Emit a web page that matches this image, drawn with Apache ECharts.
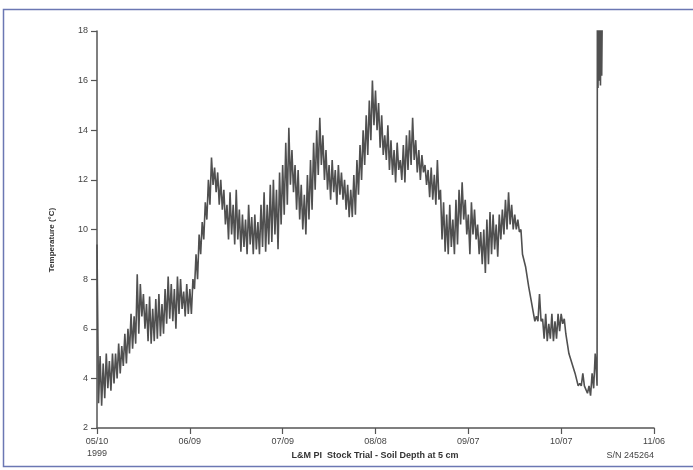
<!DOCTYPE html>
<html><head><meta charset="utf-8">
<script src="https://cdn.jsdelivr.net/npm/echarts@6/dist/echarts.min.js"></script>
<style>html,body{margin:0;padding:0;background:#fff}#c{width:693px;height:470px}</style>
</head><body><div id="c"></div>
<script>
// Days since 05/10/1999 — daily high / low soil temperature (°C)
const dailyHigh = [
 9.4,4.9,4.6,5.0,4.7,5.0,5.0,5.4,5.3,5.8,
 6.0,6.6,6.5,8.2,7.8,7.4,7.0,7.3,6.8,7.2,
 7.4,7.0,7.6,8.1,7.8,7.6,8.1,8.0,7.5,7.8,
 7.6,8.0,9.0,9.8,10.3,11.1,12.0,12.9,12.5,12.3,
 12.0,11.6,11.0,11.5,11.0,11.6,10.8,10.6,10.4,11.0,
 10.5,10.6,10.3,11.0,11.5,11.0,11.8,12.0,11.6,12.3,
 12.6,13.5,14.1,13.2,12.6,12.4,11.8,11.4,12.2,12.8,
 13.5,14.0,14.5,13.8,13.2,12.6,12.8,12.4,12.6,12.3,
 12.0,11.8,11.6,12.2,12.8,13.4,14.0,14.6,15.2,16.0,
 15.6,15.1,14.6,13.8,14.2,13.6,13.2,13.5,12.8,13.4,
 13.8,14.0,14.5,13.6,13.2,13.0,12.6,12.4,12.5,12.2,
 12.8,11.6,11.1,10.6,11.0,10.4,11.2,11.6,11.9,11.2,
 10.6,11.1,10.8,10.2,9.9,10.0,10.4,10.7,10.6,10.2,
 10.6,10.8,11.2,11.5,11.0,10.6,10.4,10.0,9.0,8.5,
 7.7,7.0,6.5,7.4,6.4,6.6,6.2,6.6,6.3,6.6,
 6.6,6.4,5.8,5.0,4.6,4.2,3.8,4.2,3.7,3.7,
 4.2,5.0
];
const dailyLow = [
 3.0,2.9,3.2,3.6,3.5,3.8,4.0,4.2,4.5,4.6,
 5.0,5.2,5.4,5.8,6.5,6.0,5.5,5.4,5.5,5.6,
 5.7,5.8,6.2,6.4,6.3,6.0,6.6,6.8,6.5,6.6,
 6.6,7.6,8.0,9.0,9.6,10.4,11.0,11.8,11.5,11.0,
 10.8,10.2,9.6,9.8,9.4,9.6,9.1,9.3,9.0,9.4,
 9.0,9.2,9.0,9.3,9.1,9.4,9.5,9.8,9.2,10.2,
 10.6,11.0,11.8,11.5,10.8,10.4,10.0,9.8,10.4,10.8,
 11.6,12.2,12.6,12.0,11.6,11.2,11.5,11.0,11.4,11.2,
 10.8,10.5,10.5,10.6,11.4,12.0,12.6,13.0,13.6,14.2,
 14.0,13.3,13.0,12.8,12.4,12.2,11.9,12.4,12.0,11.9,
 12.4,12.6,12.8,12.3,12.0,12.3,11.8,11.3,11.2,11.0,
 11.2,9.6,9.1,9.0,9.3,9.0,9.4,10.2,10.4,9.8,
 9.0,9.8,9.6,9.0,8.6,8.25,8.6,9.0,9.2,8.9,
 9.6,9.8,10.0,10.2,10.0,10.0,9.9,9.0,8.5,7.7,
 7.0,6.3,6.3,6.3,5.6,5.5,5.6,5.5,5.6,5.9,
 6.2,5.8,5.0,4.6,4.2,3.7,3.7,3.7,3.4,3.3,
 3.6,4.0
];
// final readings after the logger was lifted (off-scale above 18 °C)
const tailDays   = [161.6, 161.7, 161.9, 162.1, 162.3, 162.5, 162.7, 162.9, 163.1, 163.3];
const tailValues = [3.7, 19.0, 15.7, 19.0, 16.0, 19.0, 15.8, 19.0, 16.2, 19.0];

const xTickLabels = ['05/10\n1999','06/09','07/09','08/08','09/07','10/07','11/06'];
const yTicks = [2,4,6,8,10,12,14,16,18];

const pts = [];
for (let d = 0; d < dailyHigh.length; d++) {
  pts.push([d, dailyHigh[d]]);
  pts.push([d + 0.5, dailyLow[d]]);
}
for (let i = 0; i < tailDays.length; i++) pts.push([tailDays[i], tailValues[i]]);

const chart = echarts.init(document.getElementById('c'), null, {renderer:'canvas'});
const axisCol = '#555';
chart.setOption({
  backgroundColor: '#fff',
  animation: false,
  grid: {left: 97, right: 39, top: 31, bottom: 42},
  xAxis: {
    type: 'value', min: 0, max: 180, interval: 30,
    axisLine: {show: true, onZero: false, lineStyle: {color: axisCol, width: 1.5}},
    axisTick: {show: true, length: 6, lineStyle: {color: axisCol, width: 1.2}},
    splitLine: {show: false},
    axisLabel: {
      color: '#444', fontSize: 9, fontFamily: 'Liberation Sans', margin: 8, lineHeight: 12,
      formatter: v => xTickLabels[Math.round(v / 30)] || ''
    }
  },
  yAxis: {
    type: 'value', min: yTicks[0], max: yTicks[yTicks.length-1], interval: 2,
    axisLine: {show: true, lineStyle: {color: axisCol, width: 1.5}},
    axisTick: {show: true, length: 6, lineStyle: {color: axisCol, width: 1.2}},
    splitLine: {show: false},
    axisLabel: {color: '#444', fontSize: 9, fontFamily: 'Liberation Sans', margin: 9}
  },
  series: [{
    type: 'line', data: pts, showSymbol: false, clip: true,
    lineStyle: {color: '#505050', width: 1.6}
  }],
  graphic: [
    {type: 'rect', shape: {x: 3.5, y: 9.5, width: 700, height: 457}, silent: true,
     style: {fill: null, stroke: '#6b77b3', lineWidth: 1.5}},
    {type: 'text', x: 52, y: 240, rotation: Math.PI/2, silent: true,
     style: {text: 'Temperature (°C)', fill: '#333', font: 'bold 8px "Liberation Sans"',
             align: 'center', verticalAlign: 'middle'}},
    {type: 'text', x: 375, y: 456, silent: true,
     style: {text: 'L&M PI  Stock Trial - Soil Depth at 5 cm', fill: '#333',
             font: 'bold 9px "Liberation Sans"', align: 'center', verticalAlign: 'middle'}},
    {type: 'text', x: 654, y: 456, silent: true,
     style: {text: 'S/N 245264', fill: '#444', font: '9px "Liberation Sans"',
             align: 'right', verticalAlign: 'middle'}}
  ]
});
</script></body></html>
